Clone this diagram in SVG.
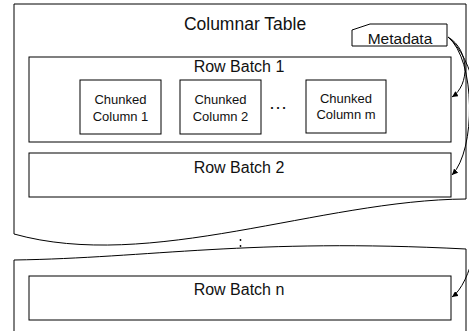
<svg xmlns="http://www.w3.org/2000/svg" width="469" height="331" viewBox="0 0 469 331">
<style>
.box{fill:#fff;stroke:#000;stroke-width:1}
.t{font-family:"Liberation Sans",Arial,sans-serif;fill:#111;text-anchor:middle}
.con{fill:none;stroke:#000;stroke-width:1}
</style>
<defs>
<marker id="ah" markerWidth="6" markerHeight="6" refX="6" refY="3" orient="auto" markerUnits="userSpaceOnUse">
<path d="M0,0 L6,3 L0,6 Z" fill="#000"/>
</marker>
</defs>
<rect width="469" height="331" fill="#fff"/>
<g id="table-top">
<path class="box" d="M466,199 L466,4 L14,4 L14,234 C150,272 320,200 466,199 Z"/>
<text class="t" x="245" y="30" font-size="17.5">Columnar Table</text>
</g>
<g id="table-bottom">
<path class="box" d="M14,332 L14,260 C150,258 250,238 466,249 L466,332"/>
</g>
<g id="metadata">
<path class="box" d="M352,30 L370,24 L447,24 L447,46 L352,46 Z"/>
<text class="t" x="400" y="44" font-size="15.5">Metadata</text>
</g>
<g id="row-batch-1">
<rect class="box" x="29" y="57" width="422" height="85"/>
<text class="t" x="239" y="72" font-size="16">Row Batch 1</text>
</g>
<g id="chunked-column-1">
<rect class="box" x="80" y="80" width="81" height="54"/>
<text class="t" x="120.5" y="104" font-size="13">Chunked</text>
<text class="t" x="120.5" y="120.5" font-size="13">Column 1</text>
</g>
<g id="chunked-column-2">
<rect class="box" x="180" y="80" width="81" height="54"/>
<text class="t" x="220.5" y="104" font-size="13">Chunked</text>
<text class="t" x="220.5" y="120.5" font-size="13">Column 2</text>
</g>
<g id="ellipsis">
<text class="t" x="278" y="109" font-size="19">…</text>
</g>
<g id="chunked-column-m">
<rect class="box" x="306" y="80" width="80" height="53"/>
<text class="t" x="346" y="102.5" font-size="13">Chunked</text>
<text class="t" x="346" y="119" font-size="13">Column m</text>
</g>
<g id="row-batch-2">
<rect class="box" x="29" y="153" width="422" height="44"/>
<text class="t" x="239" y="173" font-size="16">Row Batch 2</text>
</g>
<g id="vdots">
<circle cx="240.5" cy="240" r="0.9" fill="#000"/>
<circle cx="240.5" cy="246" r="0.9" fill="#000"/>
</g>
<g id="row-batch-n">
<rect class="box" x="29" y="276" width="422" height="44"/>
<text class="t" x="239" y="295" font-size="16">Row Batch n</text>
</g>
<g id="connectors">
<path class="con" marker-end="url(#ah)" d="M448,37 C470,50 470,85 452,97"/>
<path class="con" marker-end="url(#ah)" d="M448,37 C476,60 476,150 452,175"/>
<path class="con" marker-end="url(#ah)" d="M448,37 C500,80 490,270 452,297"/>
</g>
</svg>
